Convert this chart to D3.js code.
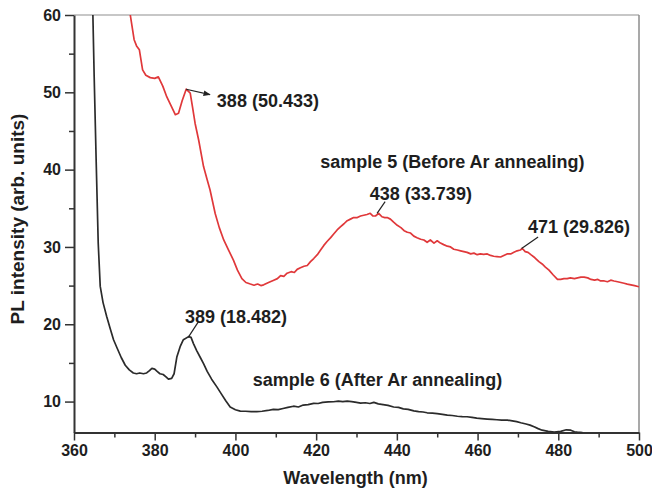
<!DOCTYPE html>
<html>
<head>
<meta charset="utf-8">
<script src="https://cdn.jsdelivr.net/npm/d3@7"></script>
<style>
  body { margin: 0; background: #fff; overflow: hidden; }
  svg { display: block; }
  text { font-family: "Liberation Sans", Arial, sans-serif; font-weight: bold; fill: #1e1e1e; }
</style>
</head>
<body>
<div id="chart"></div>
<script>
// sample 5 (before Ar annealing), red curve
const redWave = [373.5, 374.9, 375.5, 376.2, 377.0, 377.8, 378.9, 380.0, 380.9, 382.0, 383.0, 384.1, 385.1, 385.9, 386.8, 387.8, 388.8, 389.4, 390.0, 390.9,
  392.1, 393.0, 393.7, 395.0, 396.0, 397.1, 398.3, 399.5, 400.5, 401.6, 402.6, 403.7, 404.6, 405.5, 406.3, 407.0, 408.2, 409.5, 410.4, 411.2,
  412.0, 412.8, 413.8, 414.6, 415.3, 416.1, 417.0, 417.8, 418.6, 419.4, 420.3, 421.1, 421.9, 422.7, 423.6, 424.4, 425.2, 426.0, 426.9, 427.7,
  428.5, 429.3, 430.2, 431.0, 431.8, 432.6, 433.4, 434.1, 434.7, 435.5, 436.3, 437.0, 437.6, 438.4, 439.2, 440.1, 441.0, 441.8, 442.6, 443.4,
  444.2, 445.0, 445.9, 446.7, 447.5, 448.3, 449.2, 450.0, 450.8, 451.6, 452.5, 453.3, 454.1, 455.0, 455.8, 456.6, 457.4, 458.3, 459.1, 459.9,
  460.7, 461.5, 462.4, 463.2, 464.0, 464.8, 465.7, 466.5, 467.3, 468.2, 469.0, 469.8, 470.6, 471.1, 471.8, 472.5, 473.2, 474.2, 475.2, 476.0,
  476.8, 477.7, 478.7, 479.8, 480.6, 481.4, 482.2, 483.0, 484.0, 484.8, 485.6, 486.4, 487.3, 488.1, 489.0, 489.8, 490.5, 491.4, 492.2, 493.0,
  493.8, 494.7, 495.5, 496.3, 497.1, 498.0, 498.9, 500.0];
const redPL = [61.5, 56.8, 56.0, 55.5, 52.9, 52.2, 51.9, 51.8, 52.0, 50.8, 49.4, 48.2, 47.1, 47.3, 48.9, 50.4, 49.9, 48.0, 46.0, 43.8,
  40.4, 38.7, 37.4, 34.3, 32.5, 30.9, 29.6, 28.3, 27.0, 25.9, 25.4, 25.2, 25.05, 25.2, 25.0, 25.1, 25.4, 25.7, 25.9, 26.3,
  26.2, 26.6, 26.8, 26.7, 27.1, 27.3, 27.5, 27.6, 28.1, 28.5, 29.0, 29.6, 30.2, 30.7, 31.2, 31.7, 32.2, 32.6, 33.0, 33.4,
  33.6, 33.8, 33.8, 34.0, 34.1, 34.2, 34.35, 34.0, 34.0, 34.35, 33.9, 33.8, 33.8, 33.6, 33.2, 32.8, 32.5, 32.1, 31.9, 31.8,
  31.4, 31.2, 31.0, 30.9, 30.6, 30.9, 30.5, 30.8, 30.5, 30.3, 30.1, 30.0, 29.7, 29.6, 29.5, 29.4, 29.3, 29.1, 29.2, 29.0,
  29.1, 29.05, 29.1, 28.9, 28.8, 28.75, 28.7, 28.9, 29.1, 29.1, 29.3, 29.5, 29.6, 29.8, 29.4, 29.3, 29.0, 28.6, 28.1, 27.8,
  27.4, 27.0, 26.4, 25.8, 25.8, 25.9, 25.9, 26.0, 25.9, 26.0, 26.1, 26.1, 26.0, 25.8, 25.7, 25.8, 25.6, 25.6, 25.5, 25.7,
  25.6, 25.5, 25.4, 25.3, 25.2, 25.1, 25.0, 24.85];

// sample 6 (after Ar annealing), black curve
const blackWave = [364.6, 365.0, 365.5, 366.0, 366.5, 367.2, 368.1, 369.0, 369.8, 370.7, 371.7, 372.7, 373.7, 374.7, 375.5, 376.3, 377.2, 378.0, 378.7, 379.3,
  380.0, 380.6, 381.3, 382.1, 382.8, 383.4, 384.2, 384.8, 385.5, 386.3, 387.1, 388.4, 389.0, 389.6, 390.4, 391.3, 392.1, 393.0, 394.1, 395.4,
  396.5, 397.6, 398.7, 400.0, 401.2, 402.5, 403.9, 405.3, 406.6, 408.0, 409.4, 410.6, 411.8, 413.0, 414.4, 415.6, 416.8, 418.0, 419.4, 420.5,
  421.6, 423.0, 424.3, 425.5, 426.6, 427.7, 428.8, 430.0, 431.0, 432.2, 433.3, 434.3, 435.4, 436.6, 437.8, 439.2, 440.4, 441.6, 442.8, 444.2,
  445.4, 446.5, 447.5, 448.8, 450.0, 451.3, 452.5, 453.7, 455.0, 456.2, 457.4, 458.6, 459.8, 461.0, 462.4, 463.6, 464.8, 466.0, 467.4, 468.6,
  469.7, 470.7, 472.0, 473.0, 474.0, 475.0, 476.0, 477.5, 479.0, 480.6, 482.0, 483.1, 484.0, 484.7, 486.0];
const blackPL = [62, 52, 41, 30.5, 24.9, 22.8, 21.0, 19.4, 18.0, 16.9, 15.7, 14.7, 14.1, 13.7, 13.6, 13.7, 13.6, 13.7, 14.0, 14.3,
  14.2, 13.9, 13.6, 13.5, 13.2, 12.9, 13.0, 13.6, 15.8, 17.1, 18.0, 18.4, 18.3, 17.5, 16.6, 15.7, 14.9, 13.9, 12.9, 11.9,
  11.0, 10.1, 9.3, 8.95, 8.77, 8.75, 8.7, 8.7, 8.75, 8.85, 9.0, 8.95, 9.1, 9.25, 9.4, 9.3, 9.55, 9.6, 9.77, 9.75,
  9.9, 9.95, 9.98, 10.05, 10.0, 10.05, 10.0, 9.9, 9.8, 9.85, 9.75, 9.9, 9.7, 9.6, 9.5, 9.3, 9.25, 9.05, 9.0, 8.8,
  8.7, 8.65, 8.55, 8.5, 8.45, 8.35, 8.25, 8.2, 8.1, 8.05, 8.04, 7.95, 7.85, 7.8, 7.74, 7.7, 7.65, 7.6, 7.6, 7.5,
  7.4, 7.26, 7.1, 6.95, 6.74, 6.5, 6.3, 6.15, 6.05, 6.15, 6.35, 6.3, 6.1, 6.05, 6.0];

const xTicks = [360, 380, 400, 420, 440, 460, 480, 500];
const yTicks = [10, 20, 30, 40, 50, 60];
const peakLabels = ["388 (50.433)", "438 (33.739)", "471 (29.826)", "389 (18.482)"];
const seriesLabels = ["sample 5 (Before Ar annealing)", "sample 6 (After Ar annealing)"];

var width = 652
var height = 490

var svg = d3.select("#chart").append("svg")
    .attr("width", width)
    .attr("height", height)

const margin = {top: 15, right: 13, bottom: 57.5, left: 74};
const innerWidth = width - margin.left - margin.right;
const innerHeight = height - margin.top - margin.bottom;

const xScale = d3.scaleLinear().domain([360, 500]).range([0, innerWidth]);
const yScale = d3.scaleLinear().domain([6, 60]).range([innerHeight, 0]);

const g = svg.append("g")
    .attr("transform", `translate(${margin.left}, ${margin.top})`);

// frame: light top and right borders
g.append("line").attr("x1", 0).attr("x2", innerWidth).attr("y1", 0).attr("y2", 0)
    .attr("stroke", "#b4b4b4").attr("stroke-width", 1.5);
g.append("line").attr("x1", innerWidth).attr("x2", innerWidth).attr("y1", 0).attr("y2", innerHeight)
    .attr("stroke", "#8c8c8c").attr("stroke-width", 1.5);

// minor ticks first, then major axes on top
g.append("g").attr("class", "minor")
    .attr("transform", `translate(0, ${innerHeight})`)
    .call(d3.axisBottom(xScale).tickValues(d3.range(370, 500, 20)).tickSize(5))
    .call(a => a.select(".domain").remove())
    .call(a => a.selectAll("text").remove());
g.append("g").attr("class", "minor")
    .call(d3.axisLeft(yScale).tickValues([15, 25, 35, 45, 55]).tickSize(5))
    .call(a => a.select(".domain").remove())
    .call(a => a.selectAll("text").remove());

const xAxisG = g.append("g")
    .attr("transform", `translate(0, ${innerHeight})`)
    .call(d3.axisBottom(xScale).tickValues(xTicks).tickSize(8).tickSizeOuter(0).tickPadding(4));
const yAxisG = g.append("g")
    .call(d3.axisLeft(yScale).tickValues(yTicks).tickSize(9).tickSizeOuter(0).tickPadding(4));

[xAxisG, yAxisG].forEach(a => {
    a.selectAll("text").style("font-size", "16px").attr("fill", "#1e1e1e");
    a.selectAll("line").attr("stroke", "#333").attr("stroke-width", 1.5);
    a.select(".domain").attr("stroke", "#333").attr("stroke-width", 2);
});
g.selectAll(".minor line").attr("stroke", "#333").attr("stroke-width", 1.5);

svg.append("text")
    .attr("x", margin.left + innerWidth / 2 - 1)
    .attr("y", 484)
    .attr("text-anchor", "middle")
    .style("font-size", "18px")
    .text("Wavelength (nm)");

svg.append("text")
    .attr("transform", `translate(24, 219) rotate(-90)`)
    .attr("text-anchor", "middle")
    .style("font-size", "19px")
    .text("PL intensity (arb. units)");

// curves
svg.append("defs").append("clipPath").attr("id", "plot")
    .append("rect").attr("width", innerWidth).attr("height", innerHeight);

const line = d3.line()
    .x(d => xScale(d[0]))
    .y(d => yScale(d[1]));

const plot = g.append("g").attr("clip-path", "url(#plot)");

plot.append("path")
    .datum(blackWave.map((w, i) => [w, blackPL[i]]))
    .attr("fill", "none")
    .attr("stroke", "#2b2b2b")
    .attr("stroke-width", 1.7)
    .attr("stroke-linejoin", "round")
    .attr("d", line);

plot.append("path")
    .datum(redWave.map((w, i) => [w, redPL[i]]))
    .attr("fill", "none")
    .attr("stroke", "#e0383a")
    .attr("stroke-width", 1.7)
    .attr("stroke-linejoin", "round")
    .attr("d", line);

// peak annotations: [peak point, leader end, text anchor] in data units
const notes = [
    {p: [387.8, 50.4], e: [393.7, 49.7], t: [395.4, 48.1], arrow: true},
    {p: [435.1, 34.35], e: [437.1, 35.85], t: [433.3, 36.1]},
    {p: [470.9, 29.8], e: [475.0, 31.3], t: [472.5, 31.8]},
    {p: [388.3, 18.3], e: [390.8, 20.3], t: [387.5, 20.2]}
];

svg.select("defs").append("marker")
    .attr("id", "head")
    .attr("viewBox", "0 0 10 10")
    .attr("refX", 9).attr("refY", 5)
    .attr("markerWidth", 6).attr("markerHeight", 6)
    .attr("orient", "auto")
    .append("path").attr("d", "M0,1 L10,5 L0,9 Z").attr("fill", "#222");

notes.forEach((n, i) => {
    g.append("line")
        .attr("x1", xScale(n.p[0])).attr("y1", yScale(n.p[1]))
        .attr("x2", xScale(n.e[0])).attr("y2", yScale(n.e[1]))
        .attr("stroke", "#222").attr("stroke-width", 1.2)
        .attr("marker-end", n.arrow ? "url(#head)" : null);
    g.append("text")
        .attr("x", xScale(n.t[0])).attr("y", yScale(n.t[1]))
        .style("font-size", "18px")
        .text(peakLabels[i]);
});

g.append("text")
    .attr("x", xScale(421)).attr("y", yScale(40.2))
    .style("font-size", "18px")
    .text(seriesLabels[0]);
g.append("text")
    .attr("x", xScale(404.3)).attr("y", yScale(12.0))
    .style("font-size", "18px")
    .text(seriesLabels[1]);
</script>
</body>
</html>
